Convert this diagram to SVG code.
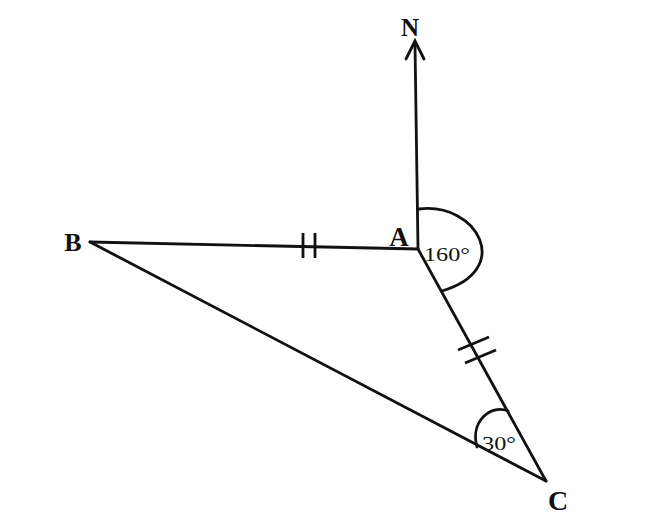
<svg xmlns="http://www.w3.org/2000/svg" width="647" height="532" viewBox="0 0 647 532">
<style>
.ln{stroke:#111;stroke-width:2.8;fill:none;stroke-linecap:round}
.tk{stroke:#111;stroke-width:2.8;fill:none}
.lb{font-family:"Liberation Serif",serif;font-weight:bold;fill:#111}
.ag{font-family:"Liberation Serif",serif;fill:#111}
</style>
<rect width="647" height="532" fill="#fff"/>
<g id="connectors">
<line class="ln" x1="418" y1="249" x2="415" y2="44"/>
<path class="ln" d="M406 59 L415 41 L424 59" stroke-width="3.2" stroke-linejoin="miter"/>
<line class="ln" x1="90" y1="242" x2="418" y2="249"/>
<line class="ln" x1="418" y1="249" x2="546" y2="481"/>
<line class="ln" x1="90" y1="242" x2="546" y2="481"/>
<line class="tk" x1="303" y1="233" x2="303" y2="258"/>
<line class="tk" x1="315" y1="233" x2="315" y2="258"/>
<line class="tk" x1="458" y1="350" x2="489" y2="337"/>
<line class="tk" x1="465" y1="363" x2="496" y2="350"/>
<path class="ln" d="M419 209 C478 202 514 270 442 291"/>
<path class="ln" d="M477 447 C470 422 490 404 508 411"/>
</g>
<g id="N"><text class="lb" x="410" y="36" font-size="25" text-anchor="middle">N</text></g>
<g id="A"><text class="lb" x="399" y="246" font-size="27" text-anchor="middle">A</text></g>
<g id="B"><text class="lb" x="73" y="251" font-size="26" text-anchor="middle">B</text></g>
<g id="C"><text class="lb" x="558" y="510" font-size="28" text-anchor="middle">C</text></g>
<g id="angleA"><text class="ag" x="424" y="261" font-size="19" textLength="46" lengthAdjust="spacingAndGlyphs">160°</text></g>
<g id="angleC"><text class="ag" x="482" y="450" font-size="19" textLength="34" lengthAdjust="spacingAndGlyphs">30°</text></g>
</svg>
